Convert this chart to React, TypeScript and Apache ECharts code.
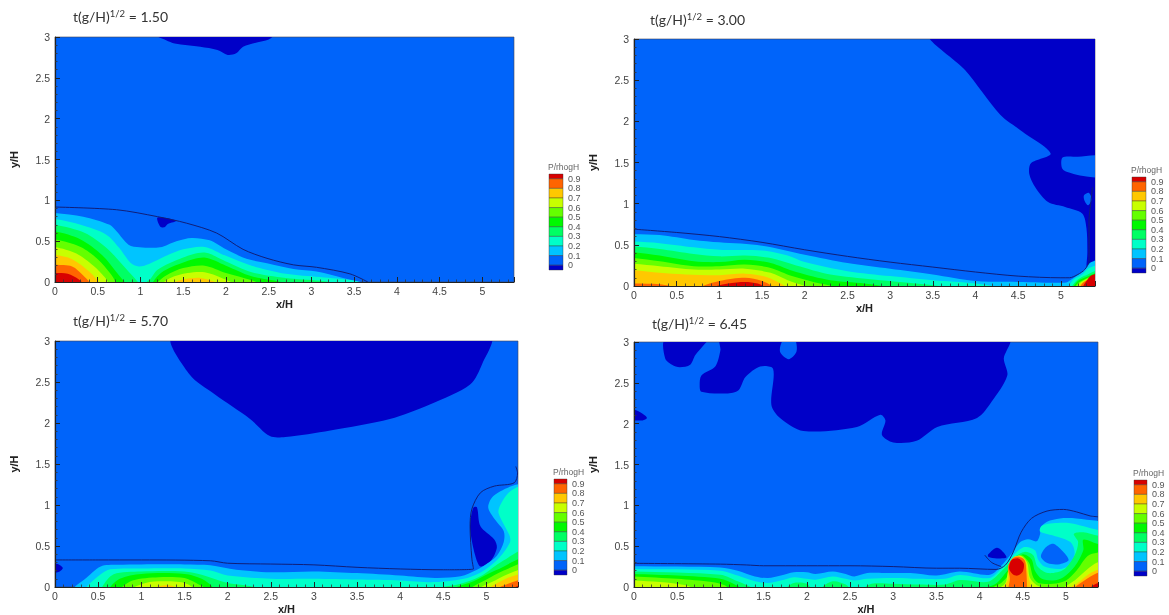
import React, { useEffect, useRef } from "react";
import * as echarts from "echarts";

type Pt = number[];

const LEVEL_COLORS = ["#0000c8", "#0064fa", "#00c4ff", "#00ffc8", "#00ff64", "#00f800", "#64ff00", "#c8ff00", "#ffc800", "#ff6400", "#d80000"];
const LEGEND_LABELS = ["0.9", "0.8", "0.7", "0.6", "0.5", "0.4", "0.3", "0.2", "0.1", "0"];
const TITLES = ["1.50", "3.00", "5.70", "6.45"];

/* ---------- panel A ---------- */
const A_free: Pt[] = [[0, 0.918], [0.72, 0.885], [1.2, 0.8], [1.54, 0.72], [1.89, 0.6], [2.2, 0.4], [2.48, 0.29], [2.79, 0.21], [3.06, 0.18], [3.45, 0.1], [3.66, 0]];
const A_darkTop: Pt[] = [[1.17, 3.03], [1.3, 2.96], [1.4, 2.92], [1.7, 2.88], [1.9, 2.84], [2.02, 2.78], [2.12, 2.8], [2.2, 2.88], [2.35, 2.93], [2.5, 2.97], [2.56, 3.03]];
const A_darkSpot: Pt[] = [[1.2, 0.79], [1.42, 0.75], [1.32, 0.71], [1.28, 0.67], [1.23, 0.68]];
const A_c1: Pt[] = [[0, 0.845], [0.33, 0.8], [0.64, 0.7], [0.72, 0.62], [0.86, 0.457], [0.99, 0.425], [1.23, 0.425], [1.42, 0.5], [1.6, 0.54], [1.81, 0.51], [2, 0.4], [2.24, 0.285], [2.48, 0.23], [2.79, 0.16], [3.06, 0.13], [3.37, 0.05], [3.65, -0.03]];
const A_c2: Pt[] = [[0, 0.77], [0.3, 0.7], [0.6, 0.58], [0.75, 0.42], [0.88, 0.24], [0.98, 0.19], [1.1, 0.22], [1.3, 0.32], [1.5, 0.4], [1.75, 0.43], [2, 0.32], [2.3, 0.2], [2.7, 0.1], [3.1, 0.06], [3.5, 0.015], [3.6, -0.03]];
const A_c3: Pt[] = [[0, 0.7], [0.35, 0.6], [0.6, 0.42], [0.8, 0.2], [0.93, 0.05], [1, -0.02], [1.1, 0.02], [1.2, 0.15], [1.5, 0.3], [1.75, 0.36], [2, 0.25], [2.3, 0.12], [2.7, 0.05], [3.1, 0.015], [3.3, -0.03]];
const A_c4a: Pt[] = [[0, 0.62], [0.3, 0.52], [0.55, 0.33], [0.75, 0.08], [0.83, -0.03]];
const A_c4b: Pt[] = [[1.13, -0.03], [1.25, 0.12], [1.5, 0.24], [1.75, 0.3], [2, 0.2], [2.3, 0.07], [2.6, 0.01], [2.75, -0.03]];
const A_c5a: Pt[] = [[0, 0.52], [0.3, 0.43], [0.5, 0.28], [0.65, 0.1], [0.72, -0.03]];
const A_c5b: Pt[] = [[1.18, -0.03], [1.3, 0.08], [1.5, 0.17], [1.75, 0.2], [2, 0.11], [2.3, 0.02], [2.4, -0.03]];
const A_c6a: Pt[] = [[0, 0.43], [0.25, 0.35], [0.45, 0.2], [0.58, 0.06], [0.63, -0.03]];
const A_c6b: Pt[] = [[1.25, -0.03], [1.35, 0.05], [1.55, 0.11], [1.75, 0.12], [1.95, 0.05], [2.1, -0.03]];
const A_c7a: Pt[] = [[0, 0.33], [0.2, 0.28], [0.4, 0.13], [0.5, 0.02], [0.53, -0.03]];
const A_c7b: Pt[] = [[1.35, -0.03], [1.5, 0.03], [1.7, 0.05], [1.85, 0.01], [1.9, -0.03]];
const A_c8: Pt[] = [[0, 0.21], [0.2, 0.19], [0.33, 0.08], [0.42, -0.03]];
const A_c9: Pt[] = [[0, 0.11], [0.15, 0.1], [0.28, 0.03], [0.33, -0.03]];

/* ---------- panel B ---------- */
const B_free: Pt[] = [[0, 0.69], [0.5, 0.65], [1, 0.6], [1.5, 0.53], [2, 0.44], [2.5, 0.36], [3, 0.29], [3.5, 0.23], [4, 0.17], [4.5, 0.12], [5, 0.1], [5.1, 0.1], [5.2, 0.14], [5.28, 0.2], [5.33, 0.3], [5.33, 0.5], [5.33, 0.8], [5.35, 1], [5.37, 1.2]];
const B_darkTop: Pt[] = [[3.47, 3.05], [3.88, 2.62], [4.29, 2.08], [4.53, 1.89], [4.88, 1.61], [4.65, 1.49], [4.63, 1.36], [4.7, 1.2], [4.85, 1.02], [5.05, 0.96], [5.25, 0.88], [5.3, 0.7], [5.31, 0.4], [5.3, 0.2], [5.33, 0.12], [5.5, 0.12], [5.5, 3.05]];
const B_island1: Pt[] = [[5.02, 1.56], [5.02, 1.42], [5.15, 1.36], [5.3, 1.33], [5.5, 1.33], [5.5, 1.57], [5.2, 1.57]];
const B_island2: Pt[] = [[5.27, 1.1], [5.33, 1.13], [5.36, 1.05], [5.32, 0.98], [5.28, 1.03]];
const B_c1: Pt[] = [[0, 0.63], [0.3, 0.62], [0.7, 0.56], [1, 0.53], [1.5, 0.49], [2, 0.38], [2.5, 0.28], [3, 0.21], [3.5, 0.14], [4, 0.06], [4.5, 0.05], [5, 0.04], [5.08, 0.05], [5.18, 0.12], [5.28, 0.2], [5.34, 0.28], [5.5, 0.32]];
const B_c2a: Pt[] = [[0, 0.54], [0.3, 0.52], [0.7, 0.47], [1, 0.44], [1.5, 0.43], [1.8, 0.37], [2, 0.29], [2.5, 0.18], [3, 0.12], [3.5, 0.07], [4, 0.03], [4.3, -0.03]];
const B_c2b: Pt[] = [[5.08, -0.03], [5.15, 0.08], [5.25, 0.14], [5.33, 0.22], [5.5, 0.25]];
const B_c3a: Pt[] = [[0, 0.48], [0.3, 0.45], [0.7, 0.39], [1, 0.36], [1.3, 0.37], [1.6, 0.34], [1.9, 0.25], [2.3, 0.14], [2.8, 0.08], [3.3, 0.03], [3.7, -0.03]];
const B_c3b: Pt[] = [[5.12, -0.03], [5.18, 0.06], [5.27, 0.12], [5.5, 0.2]];
const B_c4a: Pt[] = [[0, 0.41], [0.3, 0.37], [0.7, 0.3], [1, 0.29], [1.3, 0.32], [1.6, 0.28], [1.9, 0.17], [2.3, 0.07], [2.7, 0.03], [3, -0.03]];
const B_c4b: Pt[] = [[5.14, -0.03], [5.2, 0.06], [5.3, 0.11], [5.5, 0.17]];
const B_c5a: Pt[] = [[0, 0.34], [0.3, 0.3], [0.7, 0.24], [1, 0.24], [1.3, 0.26], [1.6, 0.22], [1.85, 0.12], [2.1, 0.05], [2.4, -0.03]];
const B_c5b: Pt[] = [[5.16, -0.03], [5.22, 0.05], [5.5, 0.15]];
const B_c6a: Pt[] = [[0, 0.27], [0.3, 0.24], [0.7, 0.2], [1, 0.2], [1.3, 0.21], [1.6, 0.16], [1.8, 0.07], [2, 0], [2.05, -0.03]];
const B_c6b: Pt[] = [[5.18, -0.03], [5.24, 0.05], [5.5, 0.14]];
const B_c7a: Pt[] = [[0, 0.19], [0.3, 0.16], [0.6, 0.14], [1, 0.13], [1.3, 0.15], [1.55, 0.11], [1.72, 0.03], [1.8, -0.03]];
const B_c7b: Pt[] = [[5.2, -0.03], [5.25, 0.04], [5.5, 0.14]];
const B_c8a: Pt[] = [[0, 0.03], [0.3, 0.02], [0.5, -0.03]];
const B_c8b: Pt[] = [[0.75, -0.03], [1, 0.06], [1.3, 0.1], [1.5, 0.06], [1.65, -0.03]];
const B_c8c: Pt[] = [[5.22, -0.03], [5.27, 0.05], [5.5, 0.13]];
const B_c9a: Pt[] = [[0.9, -0.03], [1.1, 0.03], [1.3, 0.05], [1.45, 0.03], [1.55, -0.03]];
const B_c9b: Pt[] = [[5.25, -0.03], [5.3, 0.06], [5.36, 0.13], [5.5, 0.15]];

/* ---------- panel C ---------- */
const C_free: Pt[] = [[0, 0.33], [0.5, 0.33], [1, 0.33], [1.8, 0.32], [2, 0.29], [2.5, 0.28], [3, 0.27], [3.5, 0.24], [4, 0.22], [4.5, 0.21], [4.85, 0.22], [4.83, 0.35], [4.81, 0.74], [4.83, 0.95], [4.93, 1.15], [5.09, 1.23], [5.32, 1.27], [5.36, 1.39], [5.34, 1.47]];
const C_darkTop: Pt[] = [[1.37, 3.05], [1.56, 2.59], [1.85, 2.35], [2.26, 2.05], [2.49, 1.84], [2.67, 1.83], [3.19, 1.91], [3.88, 2.05], [4.35, 2.23], [4.81, 2.47], [4.95, 2.72], [5.04, 3.05]];
const C_darkPatch: Pt[] = [[4.85, 0.97], [4.89, 0.97], [4.93, 0.74], [5.09, 0.58], [5.12, 0.48], [5.05, 0.32], [4.93, 0.25], [4.87, 0.38], [4.81, 0.7], [4.82, 0.85]];
const C_darkSpot: Pt[] = [[-0.1, 0.28], [0.03, 0.28], [0.09, 0.23], [0.03, 0.18], [-0.1, 0.18]];
const C_c1: Pt[] = [[0.2, -0.03], [0.34, 0.09], [0.53, 0.25], [0.72, 0.27], [1, 0.275], [1.5, 0.275], [1.8, 0.265], [2.1, 0.21], [2.5, 0.18], [3, 0.19], [3.5, 0.17], [4, 0.14], [4.4, 0.11], [4.7, 0.13], [4.89, 0.21], [5, 0.28], [5.12, 0.38], [5.2, 0.55], [5.2, 0.68], [5.1, 0.82], [5.02, 0.97], [5.08, 1.11], [5.32, 1.24], [5.5, 1.24]];
const C_c2: Pt[] = [[0.34, -0.03], [0.53, 0.155], [0.64, 0.215], [1, 0.225], [1.5, 0.225], [1.8, 0.2], [2, 0.14], [2.5, 0.1], [3, 0.1], [3.5, 0.09], [4, 0.08], [4.4, 0.06], [4.78, 0.11], [4.97, 0.2], [5.15, 0.36], [5.27, 0.54], [5.27, 0.62], [5.14, 0.9], [5.16, 1], [5.28, 1.17], [5.5, 1.24]];
const C_c3a: Pt[] = [[0.53, -0.03], [0.68, 0.155], [1, 0.19], [1.5, 0.19], [1.7, 0.15], [2, 0.05], [2.2, 0.02], [2.4, -0.03]];
const C_c3b: Pt[] = [[4.4, -0.03], [4.7, 0.04], [4.93, 0.13], [5.16, 0.3], [5.5, 0.47]];
const C_c4a: Pt[] = [[0.62, -0.03], [0.75, 0.1], [1, 0.16], [1.5, 0.16], [1.7, 0.1], [1.85, -0.03]];
const C_c4b: Pt[] = [[4.6, -0.03], [4.85, 0.07], [5.1, 0.2], [5.5, 0.36]];
const C_c5a: Pt[] = [[0.75, -0.03], [0.9, 0.08], [1.2, 0.12], [1.5, 0.11], [1.65, 0.04], [1.75, -0.03]];
const C_c5b: Pt[] = [[4.8, -0.03], [5, 0.09], [5.2, 0.2], [5.5, 0.3]];
const C_c6a: Pt[] = [[0.88, -0.03], [1.05, 0.05], [1.25, 0.07], [1.5, 0.05], [1.62, -0.03]];
const C_c6b: Pt[] = [[4.9, -0.03], [5.1, 0.08], [5.3, 0.18], [5.5, 0.23]];
const C_c7a: Pt[] = [[1.1, -0.03], [1.3, 0.02], [1.45, -0.03]];
const C_c7b: Pt[] = [[5.02, -0.03], [5.15, 0.06], [5.3, 0.13], [5.5, 0.17]];
const C_c8: Pt[] = [[5.12, -0.03], [5.25, 0.04], [5.5, 0.1]];
const C_c9: Pt[] = [[5.3, -0.03], [5.36, 0.01], [5.5, 0.03]];

/* ---------- panel D ---------- */
const D_free: Pt[] = [[0, 0.29], [1, 0.28], [1.3, 0.27], [1.5, 0.26], [2, 0.26], [2.5, 0.26], [3, 0.25], [3.5, 0.23], [3.77, 0.23], [4.19, 0.215], [4.3, 0.27], [4.39, 0.43], [4.48, 0.67], [4.6, 0.84], [4.78, 0.93], [4.97, 0.95], [5.12, 0.92], [5.28, 0.87], [5.37, 0.86]];
const D_loop: Pt[] = [[4.06, 0.39], [4.14, 0.3], [4.25, 0.25]];
const D_darkLobe: Pt[] = [[0.36, 3.03], [0.36, 2.8], [0.44, 2.72], [0.53, 2.69], [0.65, 2.72], [0.71, 2.84], [0.82, 2.98], [0.86, 3.03]];
const D_darkMain: Pt[] = [[1, 3.03], [1, 2.9], [0.94, 2.7], [0.78, 2.59], [0.76, 2.47], [0.78, 2.39], [1.07, 2.37], [1.21, 2.41], [1.29, 2.57], [1.46, 2.7], [1.61, 2.67], [1.59, 2.23], [1.69, 2.07], [1.96, 1.91], [2.58, 1.96], [2.85, 2.11], [2.91, 2.04], [2.87, 1.86], [3, 1.77], [3.27, 1.79], [3.51, 1.96], [3.97, 2.07], [4.14, 2.27], [4.32, 2.59], [4.28, 2.8], [4.34, 3.03]];
const D_island: Pt[] = [[1.73, 3.03], [1.69, 2.88], [1.79, 2.79], [1.88, 2.88], [1.86, 3.03]];
const D_darkSpot: Pt[] = [[-0.1, 2.15], [0, 2.17], [0.1, 2.12], [0.15, 2.07], [0.1, 2.04], [0, 2.04], [-0.1, 2.04]];
const D_darkPatch: Pt[] = [[4.1, 0.4], [4.2, 0.48], [4.28, 0.42], [4.31, 0.36], [4.2, 0.35], [4.1, 0.37]];
const D_c1: Pt[] = [[0, 0.255], [1, 0.24], [1.2, 0.2], [1.4, 0.13], [1.55, 0.11], [1.7, 0.14], [1.85, 0.18], [2, 0.18], [2.1, 0.16], [2.3, 0.19], [2.45, 0.16], [2.55, 0.13], [2.7, 0.17], [2.9, 0.17], [3.2, 0.17], [3.5, 0.14], [3.77, 0.19], [4.12, 0.15], [4.25, 0.26], [4.37, 0.41], [4.47, 0.55], [4.56, 0.585], [4.66, 0.56], [4.7, 0.65], [4.7, 0.72], [4.78, 0.8], [4.93, 0.84], [5.12, 0.84], [5.36, 0.81], [5.5, 0.8]];
const D_hole: Pt[] = [[4.71, 0.37], [4.76, 0.48], [4.85, 0.53], [4.95, 0.45], [5.03, 0.33], [4.93, 0.28], [4.79, 0.29]];
const D_c2: Pt[] = [[0, 0.22], [1, 0.2], [1.2, 0.14], [1.4, 0.07], [1.55, 0.05], [1.7, 0.08], [1.85, 0.12], [2, 0.1], [2.1, 0.09], [2.3, 0.13], [2.45, 0.1], [2.55, 0.08], [2.7, 0.1], [3, 0.11], [3.3, 0.1], [3.6, 0.1], [3.77, 0.146], [4.12, 0.11], [4.27, 0.25], [4.41, 0.41], [4.52, 0.49], [4.64, 0.45], [4.68, 0.33], [4.75, 0.25], [4.93, 0.22], [5.05, 0.28], [5.1, 0.42], [5.05, 0.55], [4.85, 0.63], [4.7, 0.68], [4.72, 0.75], [4.85, 0.78], [5.05, 0.78], [5.36, 0.7], [5.5, 0.68]];
const D_c3a: Pt[] = [[0, 0.19], [1, 0.15], [1.2, 0.07], [1.35, 0], [1.4, -0.03]];
const D_c3b: Pt[] = [[1.75, -0.03], [1.85, 0.05], [2, 0.04], [2.05, -0.03]];
const D_c3c: Pt[] = [[2.15, -0.03], [2.3, 0.07], [2.45, 0.03], [2.5, -0.03]];
const D_c3d: Pt[] = [[2.65, -0.03], [2.75, 0.04], [3, 0.04], [3.3, 0.03], [3.6, 0.03], [3.77, 0.085], [4.1, 0.065], [4.27, 0.21], [4.41, 0.37], [4.52, 0.43], [4.62, 0.39], [4.67, 0.25], [4.79, 0.17], [4.97, 0.21], [5.1, 0.39], [5.14, 0.55], [5.09, 0.65], [5.2, 0.67], [5.36, 0.63], [5.5, 0.6]];
const D_c4a: Pt[] = [[0, 0.16], [0.5, 0.14], [1, 0.1], [1.15, 0.04], [1.25, -0.03]];
const D_c4b: Pt[] = [[4.05, -0.03], [4.2, 0.05], [4.3, 0.17], [4.4, 0.3], [4.5, 0.4], [4.6, 0.34], [4.64, 0.2], [4.72, 0.1], [4.85, 0.08], [4.97, 0.12], [5.1, 0.25], [5.2, 0.45], [5.2, 0.58], [5.36, 0.53], [5.5, 0.5]];
const D_c5a: Pt[] = [[0, 0.13], [0.5, 0.1], [0.9, 0.06], [1.05, 0.02], [1.1, -0.03]];
const D_c5b: Pt[] = [[4.12, -0.03], [4.25, 0.05], [4.33, 0.14], [4.4, 0.27], [4.48, 0.39], [4.57, 0.3], [4.62, 0.12], [4.68, 0.05], [4.85, 0.04], [5, 0.08], [5.12, 0.2], [5.25, 0.38], [5.36, 0.42], [5.5, 0.42]];
const D_c6a: Pt[] = [[0, 0.08], [0.3, 0.06], [0.6, 0.02], [0.7, -0.03]];
const D_c6b: Pt[] = [[4.22, -0.03], [4.3, 0.05], [4.33, 0.2], [4.4, 0.36], [4.47, 0.385], [4.55, 0.3], [4.58, 0.12], [4.65, 0.03], [4.75, -0.03]];
const D_c6c: Pt[] = [[4.95, -0.03], [5.1, 0.08], [5.25, 0.22], [5.36, 0.3], [5.5, 0.32]];
const D_c7a: Pt[] = [[4.27, -0.03], [4.33, 0.1], [4.33, 0.25], [4.39, 0.36], [4.46, 0.38], [4.53, 0.32], [4.56, 0.15], [4.6, -0.03]];
const D_c7b: Pt[] = [[5.03, -0.03], [5.15, 0.06], [5.3, 0.18], [5.5, 0.24]];
const D_c8a: Pt[] = [[4.33, -0.03], [4.35, 0.1], [4.33, 0.25], [4.38, 0.35], [4.45, 0.37], [4.52, 0.33], [4.54, 0.2], [4.55, -0.03]];
const D_c8b: Pt[] = [[5.08, -0.03], [5.2, 0.07], [5.36, 0.17], [5.5, 0.2]];
const D_c9a: Pt[] = [[4.34, 0.23], [4.37, 0.33], [4.45, 0.35], [4.51, 0.29], [4.5, 0.19], [4.44, 0.14], [4.38, 0.16]];
const D_c9b: Pt[] = [[5.27, -0.03], [5.33, 0.03], [5.5, 0.08]];

const closed = (pts: Pt[]): Pt[] => {
  const first = pts[0];
  const last = pts[pts.length - 1];
  const head: Pt[] = first[0] === 0 ? [[-0.15, first[1]]] : [];
  const leftX = first[0] === 0 ? -0.15 : first[0];
  return [...head, ...pts, [last[0], -0.12], [leftX, -0.12]];
};
type Layer = { level: number; pts: Pt[] };
const band = (level: number, ...lists: Pt[][]): Layer[] => lists.map((l) => ({ level, pts: closed(l) }));
const patch = (level: number, ...lists: Pt[][]): Layer[] => lists.map((pts) => ({ level, pts }));

const panels = [
  {
    grid: { left: 55, top: 37, width: 459, height: 245 }, xMax: 5.37, titlePos: [73, 8], legend: [549, 174, 14],
    free: [A_free],
    layers: [
      ...patch(0, A_darkTop, A_darkSpot),
      ...band(2, A_c1), ...band(3, A_c2), ...band(4, A_c3), ...band(5, A_c4a, A_c4b), ...band(6, A_c5a, A_c5b),
      ...band(7, A_c6a, A_c6b), ...band(8, A_c7a, A_c7b), ...band(9, A_c8), ...band(10, A_c9),
    ],
  },
  {
    grid: { left: 634, top: 39, width: 461, height: 247 }, xMax: 5.4, titlePos: [650, 11], legend: [1132, 177, 14],
    free: [B_free],
    layers: [
      ...patch(0, B_darkTop), ...patch(1, B_island1, B_island2),
      ...band(2, B_c1), ...band(3, B_c2a, B_c2b), ...band(4, B_c3a, B_c3b), ...band(5, B_c4a, B_c4b), ...band(6, B_c5a, B_c5b),
      ...band(7, B_c6a, B_c6b), ...band(8, B_c7a, B_c7b), ...band(9, B_c8a, B_c8b, B_c8c), ...band(10, B_c9a, B_c9b),
    ],
  },
  {
    grid: { left: 55, top: 341, width: 463, height: 247 }, xMax: 5.365, titlePos: [73, 312], legend: [554, 479, 13],
    free: [C_free],
    layers: [
      ...patch(0, C_darkTop, C_darkPatch, C_darkSpot),
      ...band(2, C_c1), ...band(3, C_c2), ...band(4, C_c3a, C_c3b), ...band(5, C_c4a, C_c4b), ...band(6, C_c5a, C_c5b),
      ...band(7, C_c6a, C_c6b), ...band(8, C_c7a, C_c7b), ...band(9, C_c8), ...band(10, C_c9),
    ],
  },
  {
    grid: { left: 634, top: 342, width: 464, height: 247 }, xMax: 5.37, titlePos: [652, 315], legend: [1134, 480, 13],
    free: [D_free, D_loop],
    layers: [
      ...patch(0, D_darkLobe, D_darkMain, D_darkSpot, D_darkPatch), ...patch(1, D_island),
      ...band(2, D_c1), ...patch(1, D_hole), ...band(3, D_c2), ...band(4, D_c3a, D_c3b, D_c3c, D_c3d),
      ...band(5, D_c4a, D_c4b), ...band(6, D_c5a, D_c5b), ...band(7, D_c6a, D_c6b, D_c6c), ...band(8, D_c7a, D_c7b),
      ...band(9, D_c8a, D_c8b), ...patch(10, D_c9a), ...band(10, D_c9b),
    ],
  },
];

const BAND_H = 9.6;
const FONT = "'Liberation Sans', Arial, sans-serif";

const legendGraphics = (x: number, top: number, w: number) => {
  const out: any[] = [];
  out.push({ type: "text", x: x - 1, y: top - 7, silent: true, style: { text: "P/rhogH", fontSize: 8.5, fontFamily: FONT, fill: "#666", align: "left", verticalAlign: "middle" } });
  const rows = [...LEVEL_COLORS].reverse();
  let y = top;
  rows.forEach((fill, i) => {
    const h = i === 0 || i === rows.length - 1 ? BAND_H / 2 : BAND_H;
    out.push({ type: "rect", silent: true, shape: { x, y, width: w, height: h }, style: { fill, stroke: "#333", lineWidth: 0.4 } });
    y += h;
  });
  LEGEND_LABELS.forEach((text, i) => {
    out.push({ type: "text", x: x + w + 5, y: top + BAND_H / 2 + i * BAND_H, silent: true, style: { text, fontSize: 9, fontFamily: FONT, fill: "#555", align: "left", verticalAlign: "middle" } });
  });
  return out;
};

const App = () => {
  const ref = useRef<HTMLDivElement>(null);
  useEffect(() => {
    document.body.style.margin = "0";
    const chart = echarts.init(ref.current!, undefined, { renderer: "svg" });
    const axisCommon = {
      type: "value",
      nameLocation: "middle",
      nameTextStyle: { fontFamily: FONT, fontSize: 11, fontWeight: "bold", color: "#222" },
      axisLine: { show: true, onZero: false, lineStyle: { color: "#222", width: 1.2 } },
      axisTick: { show: true, inside: true, length: 5, lineStyle: { color: "#222", width: 1 } },
      minorTick: { show: true, splitNumber: 5, length: 2.5, lineStyle: { color: "#333", width: 0.8 } },
      splitLine: { show: false },
      z: 10,
    };
    const series: any[] = [];
    panels.forEach((p, i) => {
      series.push({
        type: "custom",
        xAxisIndex: i,
        yAxisIndex: i,
        clip: true,
        silent: true,
        data: p.layers.map((_, k) => [k]),
        encode: { x: -1, y: -1 },
        renderItem: (_params: any, api: any) => {
          const layer = p.layers[api.value(0)];
          return {
            type: "polygon",
            shape: { points: layer.pts.map((q) => api.coord(q)), smooth: 0.3 },
            style: { fill: LEVEL_COLORS[layer.level], stroke: "none" },
          };
        },
      });
      p.free.forEach((line) => {
        series.push({
          type: "line",
          xAxisIndex: i,
          yAxisIndex: i,
          data: line,
          symbol: "none",
          smooth: 0.3,
          clip: true,
          silent: true,
          lineStyle: { color: "#101f78", width: 1 },
        });
      });
    });
    chart.setOption({
      animation: false,
      backgroundColor: "#ffffff",
      title: panels.map((p, i) => ({
        text: `t(g/H){s|1/2} = ${TITLES[i]}`,
        left: p.titlePos[0],
        top: p.titlePos[1],
        padding: 0,
        textStyle: {
          fontFamily: "Lato, 'Open Sans', sans-serif",
          fontWeight: "normal",
          fontSize: 14,
          color: "#333",
          rich: { s: { fontFamily: "Lato, 'Open Sans', sans-serif", fontSize: 9.5, color: "#333", padding: [0, 0, 6, 0] } },
        },
      })),
      grid: panels.map((p) => ({ ...p.grid, show: true, backgroundColor: LEVEL_COLORS[1], borderColor: "#445", borderWidth: 0.6 })),
      xAxis: panels.map((p, i) => ({
        ...axisCommon,
        gridIndex: i,
        min: 0,
        max: p.xMax,
        interval: 0.5,
        name: "x/H",
        nameGap: 16,
        axisLabel: {
          fontFamily: FONT, fontSize: 10.5, color: "#444", margin: 3,
          formatter: (v: number) => (Math.abs(v * 2 - Math.round(v * 2)) < 1e-6 ? String(v) : ""),
        },
      })),
      yAxis: panels.map((_, i) => ({
        ...axisCommon,
        gridIndex: i,
        min: 0,
        max: 3,
        interval: 0.5,
        name: "y/H",
        nameGap: 36,
        axisLabel: { fontFamily: FONT, fontSize: 10.5, color: "#444", margin: 5 },
      })),
      graphic: panels.flatMap((p) => legendGraphics(p.legend[0], p.legend[1], p.legend[2])),
      series,
    });
    return () => chart.dispose();
  }, []);
  return <div ref={ref} style={{ position: "absolute", left: 0, top: 0, width: 1169, height: 615, filter: "blur(0.7px)" }} />;
};

export default App;
